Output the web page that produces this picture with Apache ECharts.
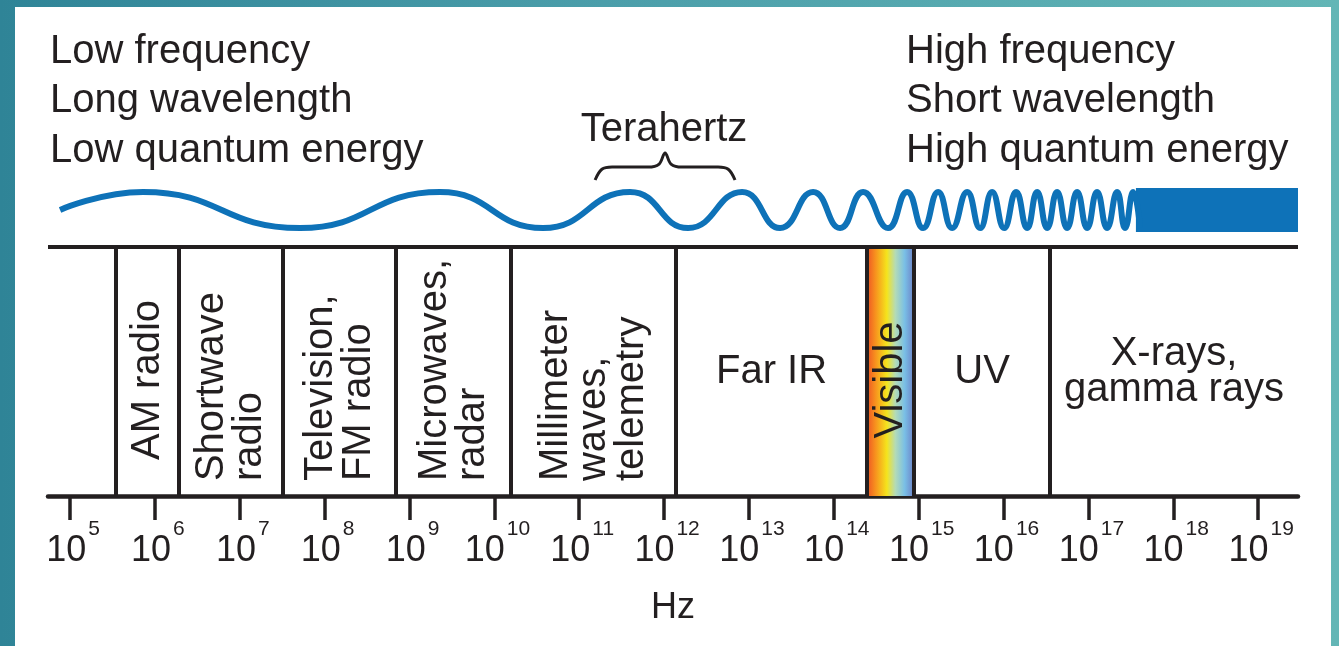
<!DOCTYPE html>
<html>
<head>
<meta charset="utf-8">
<title>Electromagnetic spectrum</title>
<script src="https://cdn.jsdelivr.net/npm/echarts@6/dist/echarts.min.js"></script>
<style>
  html, body { margin: 0; padding: 0; }
  body {
    width: 1339px;
    height: 646px;
    overflow: hidden;
    background: linear-gradient(to right, #2f8497 0%, #4b9eaa 45%, #63b6b6 100%);
  }
  #chart { width: 1339px; height: 646px; }
</style>
</head>
<body>
<div id="chart"></div>
<script>
// x axis is log10(frequency in Hz), y axis is in band heights (0 = bottom line, 1 = top line)
const exponents = [5, 6, 7, 8, 9, 10, 11, 12, 13, 14, 15, 16, 17, 18, 19];
const axisRange = [4.74, 19.47];

const bandEdges = [4.74, 5.542, 6.284, 7.510, 8.842, 10.197, 12.141, 14.392, 14.946, 16.548, 19.47];
const bandNames = ['', 'AM radio', 'Shortwave\nradio', 'Television,\nFM radio', 'Microwaves,\nradar',
  'Millimeter\nwaves,\ntelemetry', 'Far IR', 'Visible', 'UV', 'X-rays,\ngamma rays'];
const uprightBands = ['Far IR', 'UV', 'X-rays,\ngamma rays'];
const visibleBand = [14.392, 14.946];
const thzRange = [11.187, 12.836];

// crests / troughs of the wave
const waveX = [4.882, 5.860, 7.710, 9.360, 10.574, 11.599, 12.283, 12.919, 13.367, 13.756, 14.074,
  14.345, 14.639, 14.863, 15.052, 15.229, 15.394, 15.571, 15.724, 15.865, 16.007, 16.148, 16.278,
  16.396, 16.514, 16.631, 16.749, 16.867, 16.985, 17.102, 17.220, 17.338, 17.432, 17.527, 17.609];
const waveY = [1.149, 1.221, 1.076, 1.221, 1.076, 1.221, 1.076, 1.221, 1.076, 1.221, 1.076,
  1.221, 1.076, 1.221, 1.076, 1.221, 1.076, 1.221, 1.076, 1.221, 1.076, 1.221, 1.076,
  1.221, 1.076, 1.221, 1.076, 1.221, 1.076, 1.221, 1.076, 1.221, 1.076, 1.221, 1.076];
const denseWave = [17.56, 19.47];

const ink = '#231f20';
const blue = '#0e72b8';
const fontFamily = '"Liberation Sans", Arial, Helvetica, sans-serif';
const font40 = '40px ' + fontFamily;

const chart = echarts.init(document.getElementById('chart'), null, { renderer: 'canvas' });

function renderBand(params, api) {
  const name = bandNames[params.dataIndex];
  if (!name) return null;
  const mid = (api.value(0) + api.value(1)) / 2;
  const upright = uprightBands.indexOf(name) >= 0;
  const multi = name.indexOf('\n') >= 0;
  const yRef = upright ? 0.498 : (multi ? 0.06 : 0.466);
  const p = api.coord([mid, yRef]);
  const align = (!upright && multi) ? 'left' : 'center';
  return {
    type: 'text',
    x: p[0],
    y: p[1],
    rotation: upright ? 0 : Math.PI / 2,
    style: {
      text: name,
      fill: ink,
      font: font40,
      align: align,
      textAlign: align,
      verticalAlign: 'middle',
      textVerticalAlign: 'middle',
      lineHeight: upright ? 36 : 38
    }
  };
}

const thzMid = (thzRange[0] + thzRange[1]) / 2;
const bracePoints = [
  [thzRange[0], 1.269], [thzRange[0] + 0.08, 1.312], [thzRange[0] + 0.2, 1.321],
  [thzMid - 0.2, 1.321], [thzMid - 0.07, 1.333], [thzMid, 1.378],
  [thzMid + 0.07, 1.333], [thzMid + 0.2, 1.321],
  [thzRange[1] - 0.2, 1.321], [thzRange[1] - 0.08, 1.312], [thzRange[1], 1.269]
];

chart.setOption({
  animation: false,
  grid: { left: 48, right: 41, top: 122.5, bottom: 150, outerBoundsMode: 'none' },
  xAxis: {
    type: 'value',
    min: axisRange[0],
    max: axisRange[1],
    axisLine: { show: true, lineStyle: { color: ink, width: 4.5 } },
    axisTick: { show: true, customValues: exponents, length: 24, lineStyle: { color: ink, width: 3.5 } },
    axisLabel: {
      show: true,
      customValues: exponents,
      margin: 37,
      formatter: function (v) { return '{a|10}{b|' + Math.round(v) + '}'; },
      rich: {
        a: { fontSize: 36, lineHeight: 36, fontFamily: fontFamily, color: ink, verticalAlign: 'bottom', padding: [0, 0, 0, 6] },
        b: { fontSize: 21, lineHeight: 21, fontFamily: fontFamily, color: ink, verticalAlign: 'bottom', padding: [0, 0, 29, 2] }
      }
    },
    splitLine: { show: false },
    name: 'Hz',
    nameLocation: 'middle',
    nameGap: 94,
    nameTextStyle: { fontSize: 36, fontFamily: fontFamily, color: ink }
  },
  yAxis: { type: 'value', min: 0, max: 1.5, show: false },
  graphic: [
    { type: 'rect', z: 0, silent: true, shape: { x: 15, y: 7, width: 1316, height: 660 }, style: { fill: '#ffffff' } },
    {
      type: 'text', z: 1, x: 50, y: 101,
      style: { text: 'Low frequency\nLong wavelength\nLow quantum energy', font: font40, fill: ink,
        lineHeight: 49.5, verticalAlign: 'middle', textVerticalAlign: 'middle' }
    },
    {
      type: 'text', z: 1, x: 906, y: 101,
      style: { text: 'High frequency\nShort wavelength\nHigh quantum energy', font: font40, fill: ink,
        lineHeight: 49.5, verticalAlign: 'middle', textVerticalAlign: 'middle' }
    },
    {
      type: 'text', z: 1, x: 664, y: 130,
      style: { text: 'Terahertz', font: font40, fill: ink, align: 'center', textAlign: 'center',
        verticalAlign: 'middle', textVerticalAlign: 'middle' }
    }
  ],
  series: [
    {
      type: 'custom',
      name: 'bands',
      silent: true,
      renderItem: renderBand,
      data: bandNames.map(function (n, i) { return [bandEdges[i], bandEdges[i + 1]]; }),
      markArea: {
        silent: true,
        label: { show: false },
        itemStyle: {
          color: {
            type: 'linear', x: 0, y: 0, x2: 1, y2: 0,
            colorStops: [
              { offset: 0, color: '#ee5524' },
              { offset: 0.18, color: '#f7921e' },
              { offset: 0.42, color: '#f5e41c' },
              { offset: 0.6, color: '#b4dbb6' },
              { offset: 0.8, color: '#79bfe6' },
              { offset: 1, color: '#6c80c6' }
            ]
          }
        },
        data: [[{ coord: [visibleBand[0], 0] }, { coord: [visibleBand[1], 1] }]]
      },
      markLine: {
        silent: true,
        symbol: 'none',
        label: { show: false },
        lineStyle: { color: ink, width: 4, type: 'solid' },
        data: [[{ coord: [axisRange[0], 1] }, { coord: [axisRange[1], 1] }]].concat(
          bandEdges.slice(1, -1).map(function (e) { return [{ coord: [e, 0] }, { coord: [e, 1] }]; })
        )
      }
    },
    {
      type: 'line',
      name: 'wave',
      silent: true,
      data: waveX.map(function (x, i) { return [x, waveY[i]]; }),
      smooth: 0.5,
      symbol: 'none',
      lineStyle: { color: blue, width: 6 },
      markArea: {
        silent: true,
        label: { show: false },
        itemStyle: { color: blue },
        data: [[{ coord: [denseWave[0], 1.060] }, { coord: [denseWave[1], 1.237] }]]
      }
    },
    {
      type: 'line',
      name: 'terahertz',
      silent: true,
      data: bracePoints,
      smooth: 0.35,
      symbol: 'none',
      lineStyle: { color: ink, width: 3 }
    }
  ]
});
</script>
</body>
</html>
